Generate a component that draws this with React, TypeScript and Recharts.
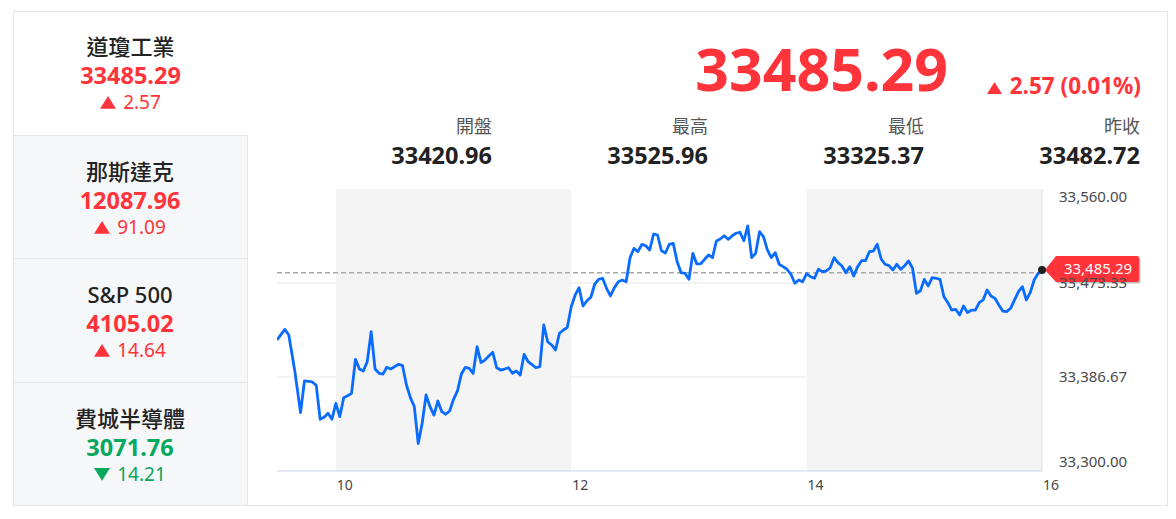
import { CartesianGrid, Line, LineChart, ReferenceArea, ReferenceDot, ReferenceLine, XAxis, YAxis } from "recharts";

const RED = "#ff333a";
const GREEN = "#05a85c";
const LINE_COLOR = "#0a6cff";
const FONT = "'Noto Sans', 'Noto Sans CJK TC', sans-serif";

const indexNames = ["道瓊工業", "那斯達克", "S&P 500", "費城半導體"];
const indexValues = ["33485.29", "12087.96", "4105.02", "3071.76"];
const indexChanges = ["2.57", "91.09", "14.64", "14.21"];
const indexUp = [true, true, true, false];

const statLabels = ["開盤", "最高", "最低", "昨收"];
const statValues = ["33420.96", "33525.96", "33325.37", "33482.72"];

const lastPrice = 33485.29;
const prevClose = 33482.72;
const changeText = "2.57 (0.01%)";

// minutes since 9:30
const minutes = [
  0, 4, 6, 9, 12, 14, 18, 20, 22, 24, 26, 28, 30, 32, 34, 36, 38, 40, 42, 44, 46, 48, 50, 52, 54, 56, 58, 60, 62, 64,
  66, 68, 70, 72, 74, 76, 78, 80, 82, 84, 86, 88, 90, 92, 94, 96, 98, 100, 102, 104, 106, 108, 110, 112, 114, 116, 118,
  120, 122, 124, 126, 128, 130, 132, 134, 136, 138, 140, 142, 144, 146, 148, 150, 152, 154, 156, 158, 160, 162, 164,
  166, 168, 170, 172, 174, 176, 178, 180, 182, 184, 186, 188, 190, 192, 194, 196, 198, 200, 202, 204, 206, 208, 210,
  212, 214, 216, 218, 220, 222, 224, 226, 228, 230, 232, 234, 236, 238, 240, 242, 244, 246, 248, 250, 252, 254, 256,
  258, 260, 262, 264, 266, 268, 270, 272, 274, 276, 278, 280, 282, 284, 286, 288, 290, 292, 294, 296, 298, 300, 302,
  304, 306, 308, 310, 312, 314, 316, 318, 320, 322, 324, 326, 328, 330, 332, 334, 336, 338, 340, 342, 344, 346, 348,
  350, 352, 354, 356, 358, 360, 362, 364, 366, 368, 370, 372, 374, 376, 378, 380, 382, 384, 386, 388, 390,
];

const prices = [
  33420.96, 33430.6, 33425.4, 33393.1, 33353.8, 33383.0, 33382.1, 33379.0, 33347.7, 33349.5, 33353.2, 33347.7, 33362.4,
  33350.1, 33367.6, 33369.4, 33371.6, 33403.0, 33394.0, 33392.2, 33400.8, 33428.4, 33394.0, 33390.1, 33389.4, 33395.6,
  33394.0, 33396.2, 33398.4, 33397.1, 33379.3, 33367.6, 33359.3, 33325.37, 33344.0, 33370.1, 33359.3, 33351.6, 33364.5,
  33354.7, 33352.3, 33355.3, 33366.1, 33373.8, 33389.4, 33395.6, 33394.7, 33390.1, 33414.6, 33399.9, 33402.3, 33406.0,
  33409.4, 33395.2, 33393.1, 33394.0, 33395.2, 33390.1, 33392.2, 33388.5, 33407.6, 33400.8, 33398.0, 33395.2, 33396.2,
  33434.6, 33419.2, 33416.2, 33411.6, 33427.0, 33430.0, 33432.5, 33451.5, 33462.3, 33469.0, 33452.1, 33457.0, 33460.2,
  33472.4, 33476.7, 33477.7, 33468.4, 33461.4, 33469.0, 33474.5, 33476.1, 33474.5, 33496.7, 33505.3, 33502.2, 33509.0,
  33507.7, 33503.8, 33518.5, 33517.6, 33503.1, 33501.0, 33509.0, 33509.9, 33493.0, 33482.8, 33482.3, 33476.7, 33500.7,
  33490.9, 33490.9, 33495.2, 33499.2, 33496.7, 33512.1, 33513.9, 33516.9, 33513.6, 33516.7, 33519.2, 33520.1, 33512.3,
  33525.96, 33496.7, 33500.7, 33520.6, 33516.0, 33503.8, 33496.7, 33501.3, 33490.6, 33488.4, 33486.0, 33481.4, 33473.1,
  33476.1, 33474.5, 33481.9, 33479.1, 33477.7, 33486.0, 33483.8, 33484.4, 33487.4, 33496.7, 33492.1, 33489.0, 33482.8,
  33488.4, 33479.8, 33488.4, 33493.9, 33493.9, 33502.2, 33502.8, 33509.0, 33495.5, 33490.6, 33489.3, 33485.3, 33490.6,
  33486.0, 33489.3, 33493.6, 33486.9, 33463.8, 33466.2, 33476.7, 33470.6, 33478.2, 33477.7, 33476.7, 33460.7, 33455.2,
  33448.4, 33449.1, 33443.8, 33452.1, 33446.0, 33448.4, 33448.4, 33455.2, 33457.7, 33466.9, 33461.4, 33459.2, 33453.1,
  33447.5, 33446.9, 33450.0, 33457.7, 33465.3, 33469.9, 33457.7, 33464.4, 33476.1, 33482.0, 33485.29,
];

const xTicks = [30, 150, 270, 390];
const xTickLabels = ["10", "12", "14", "16"];
const yTicks = [33300, 33386.67, 33473.33, 33560];
const shadedBands = [
  [30, 150],
  [270, 390],
];

const data = minutes.map((m, i) => ({ m, price: prices[i] }));

const fmt = (v: number) => v.toLocaleString("en-US", { minimumFractionDigits: 2, maximumFractionDigits: 2 });

function YTick({ x, y, payload }: any) {
  const v = payload.value;
  const dy = v === 33560 ? 8 : v === 33300 ? -9 : 0;
  return (
    <text x={x + 15} y={y + dy} dy="0.35em" fontSize={15} fill="#4a4a4a" fontFamily={FONT}>
      {fmt(v)}
    </text>
  );
}

function XTick({ x, y, payload }: any) {
  const i = xTicks.indexOf(payload.value);
  return (
    <text x={x + 9} y={y + 12} dy="0.35em" textAnchor="middle" fontSize={14} fill="#444" fontFamily={FONT}>
      {xTickLabels[i]}
    </text>
  );
}

function LastPriceMarker({ cx, cy }: any) {
  const d = `M${cx + 3},${cy} L${cx + 14},${cy - 14} L${cx + 95},${cy - 14} Q${cx + 97},${cy - 14} ${cx + 97},${cy - 12} L${cx + 97},${cy + 10} Q${cx + 97},${cy + 12} ${cx + 95},${cy + 12} L${cx + 14},${cy + 12} Z`;
  return (
    <g>
      <path d={d} fill="#444" opacity={0.35} transform="translate(1.5,1.5)" />
      <path d={d} fill={RED} />
      <text x={cx + 56} y={cy - 1} dy="0.35em" textAnchor="middle" fontSize={15} fill="#fff" fontFamily={FONT}>
        {fmt(lastPrice)}
      </text>
      <circle cx={cx} cy={cy} r={4} fill="#222" />
    </g>
  );
}

function Arrow({ up, color, size, gap = 7 }: { up: boolean; color: string; size: number; gap?: number }) {
  const h = size * 0.8;
  return (
    <svg width={size} height={h} style={{ display: "inline-block", marginRight: gap, verticalAlign: "0px" }}>
      <polygon points={up ? `0,${h} ${size / 2},0 ${size},${h}` : `0,0 ${size},0 ${size / 2},${h}`} fill={color} />
    </svg>
  );
}

function IndexItem({ i }: { i: number }) {
  const color = indexUp[i] ? RED : GREEN;
  return (
    <div
      style={{
        position: "absolute",
        left: 0,
        top: i * 123.5,
        width: 235,
        height: 124,
        boxSizing: "border-box",
        background: i === 0 ? "#fff" : "#f6f7f9",
        borderTop: i === 0 ? "none" : "1px solid #e4e6ea",
        borderRight: i === 0 ? "none" : "1px solid #e4e6ea",
        textAlign: "center",
        fontFamily: FONT,
      }}
    >
      <div style={{ position: "absolute", top: 20, width: "100%", fontSize: 22, fontWeight: 500, color: "#222", lineHeight: "30px" }}>
        {indexNames[i]}
      </div>
      <div style={{ position: "absolute", top: 49, width: "100%", fontSize: 23.5, fontWeight: 700, color, lineHeight: "30px" }}>
        {indexValues[i]}
      </div>
      <div style={{ position: "absolute", top: 78, width: "100%", fontSize: 19, color, lineHeight: "26px" }}>
        <Arrow up={indexUp[i]} color={color} size={16} />
        {indexChanges[i]}
      </div>
    </div>
  );
}

export default function App() {
  const statRight = [492, 708, 924, 1140];
  return (
    <div style={{ position: "absolute", left: 0, top: 0, width: 1176, height: 519, background: "#fff", fontFamily: FONT }}>
      <div style={{ position: "absolute", left: 13, top: 11, width: 235, height: 495 }}>
        {indexNames.map((_, i) => (
          <IndexItem key={i} i={i} />
        ))}
      </div>
      <div
        style={{
          position: "absolute",
          left: 13,
          top: 11,
          width: 1155,
          height: 495,
          border: "1px solid #e4e6ea",
          boxSizing: "border-box",
          pointerEvents: "none",
        }}
      />

      <div
        style={{
          position: "absolute",
          right: 1176 - 948,
          top: 28,
          fontSize: 59,
          fontWeight: 700,
          color: RED,
          lineHeight: "80px",
        }}
      >
        {indexValues[0]}
      </div>
      <div
        style={{
          position: "absolute",
          right: 1176 - 1141,
          top: 71,
          fontSize: 22.5,
          fontWeight: 700,
          color: RED,
          lineHeight: "30px",
        }}
      >
        <Arrow up color={RED} size={15} gap={8} />
        {changeText}
      </div>

      {statLabels.map((label, i) => (
        <div key={label} style={{ position: "absolute", right: 1176 - statRight[i], top: 113, textAlign: "right" }}>
          <div style={{ fontSize: 18, color: "#555", lineHeight: "27px" }}>{label}</div>
          <div style={{ fontSize: 23.5, fontWeight: 700, color: "#222", lineHeight: "30px" }}>{statValues[i]}</div>
        </div>
      ))}

      <div style={{ position: "absolute", left: 260, top: 180 }}>
        <LineChart width={900} height={320} data={data} margin={{ top: 9, right: 0, left: 17, bottom: 0 }}>
          {shadedBands.map(([a, b]) => (
            <ReferenceArea key={a} x1={a} x2={b} y1={33300} y2={33560} fill="#f4f4f4" fillOpacity={1} stroke="none" />
          ))}
          <CartesianGrid vertical={false} horizontalValues={[33386.67, 33473.33]} stroke="#e8e8e8" />
          <XAxis
            dataKey="m"
            type="number"
            domain={[0, 390]}
            ticks={xTicks}
            tick={<XTick />}
            tickLine={false}
            tickSize={0}
            axisLine={{ stroke: "#ccd6eb" }}
            height={29}
            allowDataOverflow
          />
          <YAxis
            orientation="right"
            domain={[33300, 33560]}
            ticks={yTicks}
            tick={<YTick />}
            tickLine={false}
            tickSize={0}
            axisLine={false}
            width={118}
            allowDataOverflow
          />
          <ReferenceLine x={390} stroke="#dcdce4" />
          <ReferenceLine y={prevClose} stroke="#a8a8a8" strokeWidth={1.5} strokeDasharray="5 3" />
          <Line
            dataKey="price"
            stroke={LINE_COLOR}
            strokeWidth={2.8}
            dot={false}
            isAnimationActive={false}
            strokeLinejoin="round"
          />
          <ReferenceDot x={390} y={lastPrice} r={4} shape={<LastPriceMarker />} ifOverflow="visible" />
        </LineChart>
      </div>
    </div>
  );
}
